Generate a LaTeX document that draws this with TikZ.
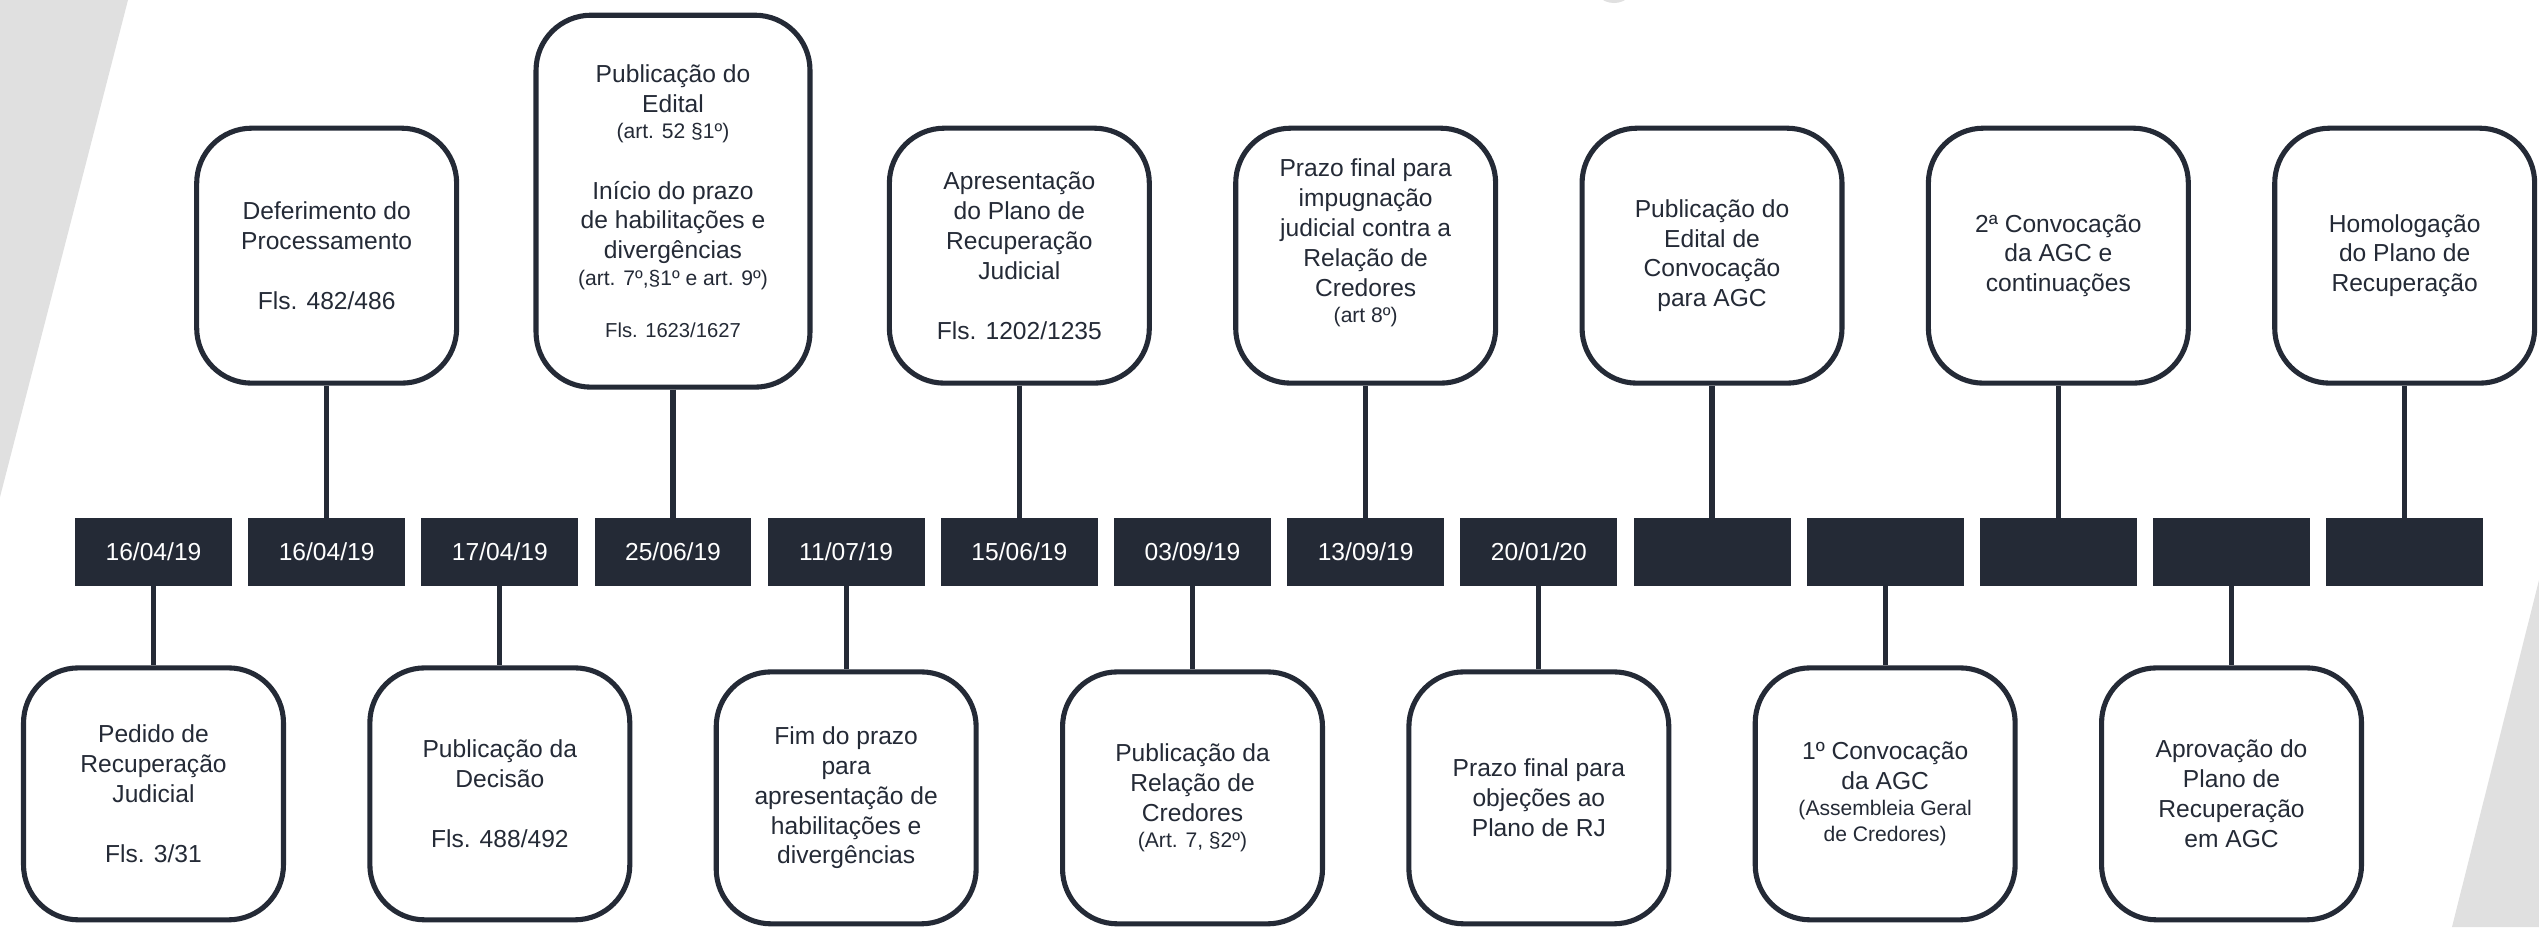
\documentclass[tikz,border=0pt]{standalone}
\usepackage{fontspec}
\setmainfont{Liberation Sans}
\usepackage{xcolor}
\usepackage{tikz}
\usetikzlibrary{positioning}

\definecolor{navy}{RGB}{36,42,54}
\definecolor{bggray}{RGB}{224,224,224}
\newcommand{\artref}[1]{{\fontsize{12}{14}\selectfont #1}}
\newcommand{\artsmall}[1]{{\fontsize{11.5}{13}\selectfont #1}}

\begin{document}
\begin{tikzpicture}[x=0.02cm, y=-0.02cm,
        datebox/.style={fill=navy, text=white, minimum width=3.14cm, minimum height=1.36cm, inner sep=0pt, font=\fontsize{14}{17}\selectfont},
        event/.style={draw=navy, line width=2.9pt, rounded corners=1.1cm, fill=white, text=navy, minimum width=5.2cm, minimum height=5.1cm, align=center, inner sep=2pt, font=\fontsize{14}{17}\selectfont},
        lowevent/.style={event, minimum height=5.04cm},
        stem/.style={draw=navy, line width=2.9pt},
        node distance=0.31cm
    ]

    % background
    \useasboundingbox (0,0) rectangle (2539,927);
    \fill[white] (0,0) rectangle (2539,927);
    \fill[bggray] (0,0) -- (128,0) -- (0,497) -- cycle;
    \fill[bggray] (2539,580) -- (2539,927) -- (2452,927) -- cycle;
    \fill[bggray] (1614,-19) circle[radius=22];

    % date row
    \node[datebox] (d0) at (153.5,552) {16/04/19};
    \node[datebox, right=of d0] (d1) {16/04/19};
    \node[datebox, right=of d1] (d2) {17/04/19};
    \node[datebox, right=of d2] (d3) {25/06/19};
    \node[datebox, right=of d3] (d4) {11/07/19};
    \node[datebox, right=of d4] (d5) {15/06/19};
    \node[datebox, right=of d5] (d6) {03/09/19};
    \node[datebox, right=of d6] (d7) {13/09/19};
    \node[datebox, right=of d7] (d8) {20/01/20};
    \node[datebox, right=of d8] (d9) {};
    \node[datebox, right=of d9] (d10) {};
    \node[datebox, right=of d10] (d11) {};
    \node[datebox, right=of d11] (d12) {};
    \node[datebox, right=of d12] (d13) {};

    % events above
    \node[event, above=2.64cm of d1] (e1) {Deferimento do\\Processamento\\[17pt]Fls. 482/486};
    \node[event, minimum width=5.48cm, minimum height=7.44cm, above=2.56cm of d3] (e3) {Publicação do\\Edital\\[-2pt]\artref{(art. 52 §1º)}\\[17.5pt]Início do prazo\\de habilitações e\\divergências\\[-2pt]\artref{(art. 7º,§1º e art. 9º)}\\[13pt]\artsmall{Fls. 1623/1627}};
    \node[event, above=2.64cm of d5] (e5) {Apresentação\\do Plano de\\Recuperação\\Judicial\\[17pt]Fls. 1202/1235};
    \node[event, text depth=0.6cm, above=2.64cm of d7] (e7) {Prazo final para\\impugnação\\judicial contra a\\Relação de\\Credores\\[-2pt]\artref{(art 8º)}};
    \node[event, above=2.64cm of d9] (e9) {Publicação do\\Edital de\\Convocação\\para AGC};
    \node[event, above=2.64cm of d11] (e11) {2ª Convocação\\da AGC e\\continuações};
    \node[event, above=2.64cm of d13] (e13) {Homologação\\do Plano de\\Recuperação};

    % events below
    \node[lowevent, below=1.58cm of d0] (e0) {Pedido de\\Recuperação\\Judicial\\[17pt]Fls. 3/31};
    \node[lowevent, below=1.58cm of d2] (e2) {Publicação da\\Decisão\\[17pt]Fls. 488/492};
    \node[lowevent, below=1.66cm of d4] (e4) {Fim do prazo\\para\\apresentação de\\habilitações e\\divergências};
    \node[lowevent, below=1.66cm of d6] (e6) {Publicação da\\Relação de\\Credores\\[-2pt]\artref{(Art. 7, §2º)}};
    \node[lowevent, below=1.66cm of d8] (e8) {Prazo final para\\objeções ao\\Plano de RJ};
    \node[lowevent, below=1.58cm of d10] (e10) {1º Convocação\\da AGC\\[-2pt]\artref{(Assembleia Geral}\\[-2pt]\artref{de Credores)}};
    \node[lowevent, below=1.58cm of d12] (e12) {Aprovação do\\Plano de\\Recuperação\\em AGC};

    % stems
    \draw[stem] (e1) -- (d1);
    \draw[stem] (e3) -- (d3);
    \draw[stem] (e5) -- (d5);
    \draw[stem] (e7) -- (d7);
    \draw[stem] (e9) -- (d9);
    \draw[stem] (e11) -- (d11);
    \draw[stem] (e13) -- (d13);
    \draw[stem] (d0) -- (e0);
    \draw[stem] (d2) -- (e2);
    \draw[stem] (d4) -- (e4);
    \draw[stem] (d6) -- (e6);
    \draw[stem] (d8) -- (e8);
    \draw[stem] (d10) -- (e10);
    \draw[stem] (d12) -- (e12);

\end{tikzpicture}
\end{document}
